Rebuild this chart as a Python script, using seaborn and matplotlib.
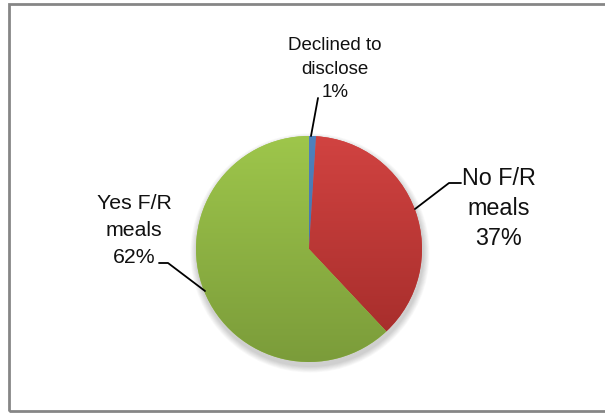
import numpy as np
import matplotlib
matplotlib.use("Agg")
import matplotlib.pyplot as plt
import seaborn as sns
from matplotlib.colors import LinearSegmentedColormap
from matplotlib.patches import Circle, Rectangle

categories = ["Declined to\ndisclose", "No F/R\nmeals", "Yes F/R\nmeals"]
shares = [1, 37, 62]
top_colors = ["#4f81bd", "#d14341", "#9ec64b"]
bottom_colors = ["#3d6aa3", "#a22b29", "#7b9c3a"]

sns.set_theme(style="white")
plt.rcParams["font.family"] = ["Liberation Sans Narrow", "Liberation Sans", "DejaVu Sans"]

W, H = 605, 414
fig = plt.figure(figsize=(W / 100, H / 100), dpi=100)
ax = fig.add_axes([0, 0, 1, 1])


def Y(y):
    return H - y


cx, cy, r = 309, Y(250), 113

# soft drop shadow under the pie
for k in range(8):
    ax.add_patch(Circle((cx + 1, cy - 4), r + 1 + k * 0.8, facecolor="#000000",
                        alpha=0.025, edgecolor="none", zorder=1))

wedges, _ = ax.pie(shares, startangle=90, counterclock=False, center=(cx, cy),
                   radius=r, colors=top_colors, frame=True,
                   wedgeprops=dict(edgecolor="none", linewidth=0))
ax.set_xlim(0, W)
ax.set_ylim(0, H)
ax.set_aspect("equal")
ax.axis("off")

# chart frame
ax.add_patch(Rectangle((9, Y(412)), 620, 407, fill=False, edgecolor="#868686",
                       lw=2, clip_on=False))

# vertical gradient fill inside each wedge
grad = np.linspace(0, 1, 256).reshape(-1, 1)
for w, c0, c1 in zip(wedges, top_colors, bottom_colors):
    w.set_zorder(2)
    cmap = LinearSegmentedColormap.from_list("g", [c1, c0])
    im = ax.imshow(grad, cmap=cmap, origin="lower", aspect="auto",
                   extent=(cx - r, cx + r, cy - r, cy + r), zorder=3,
                   interpolation="bilinear")
    im.set_clip_path(w)
ax.set_xlim(0, W)
ax.set_ylim(0, H)

# labels with leader lines
lab_kw = dict(ha="center", va="baseline", color="#111111", zorder=5)
for i, line in enumerate(["Declined to", "disclose", f"{shares[0]}%"]):
    ax.text(335, Y(50 + 23.5 * i), line, fontsize=13.5, **lab_kw)
ax.plot([318, 311], [Y(99), Y(137)], color="black", lw=1.3, zorder=5)

for i, line in enumerate(["No F/R", "meals", f"{shares[1]}%"]):
    ax.text(499, Y(185 + 30 * i), line, fontsize=16.8, **lab_kw)
ax.plot([461, 449, 415], [Y(184), Y(184), Y(210)], color="black", lw=1.3, zorder=5)

for i, line in enumerate(["Yes F/R", "meals", f"{shares[2]}%"]):
    ax.text(134, Y(209 + 27 * i), line, fontsize=15.3, **lab_kw)
ax.plot([159, 168, 205], [Y(264), Y(264), Y(292)], color="black", lw=1.3, zorder=5)

fig.savefig("out.png", dpi=100, facecolor="white")
